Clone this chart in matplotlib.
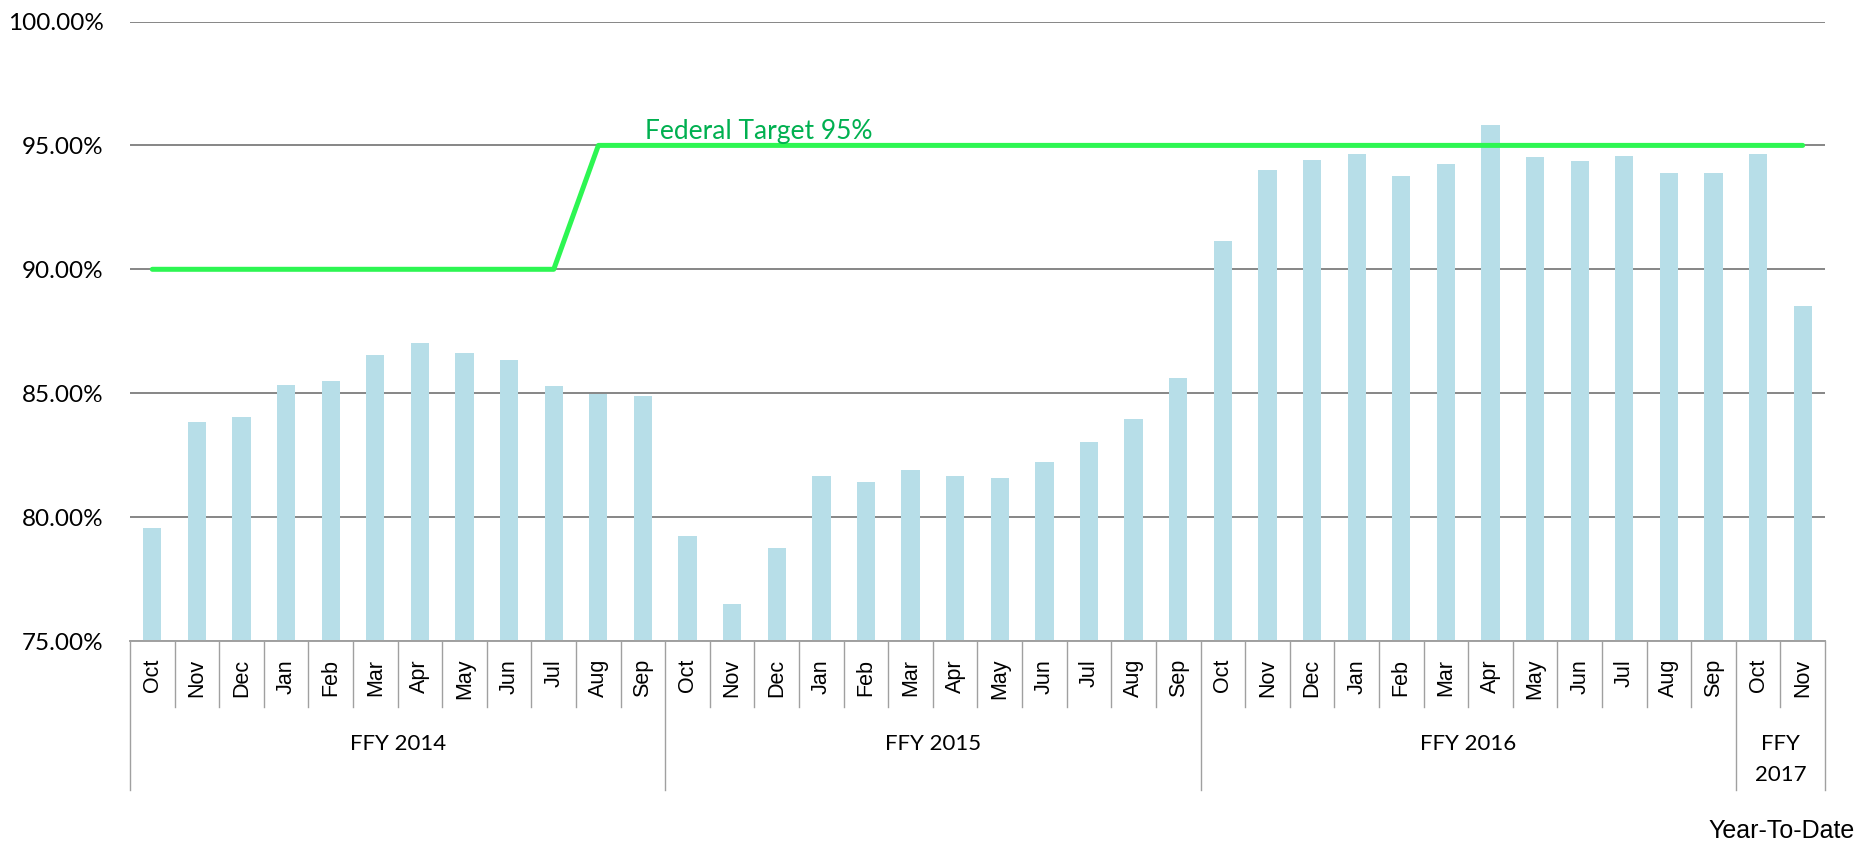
import matplotlib
matplotlib.use('Agg')
import matplotlib.pyplot as plt
import matplotlib.transforms as mtransforms
from matplotlib.ticker import FuncFormatter

# Данные графика
months = ['Oct', 'Nov', 'Dec', 'Jan', 'Feb', 'Mar', 'Apr', 'May', 'Jun', 'Jul', 'Aug', 'Sep']
month_labels = months * 3 + ['Oct', 'Nov']
years = ['FFY 2014', 'FFY 2015', 'FFY 2016', 'FFY\n2017']
year_sizes = [12, 12, 12, 2]

rates_2014 = [79.54, 83.83, 84.03, 85.35, 85.48, 86.54, 87.04, 86.61, 86.33, 85.31, 84.95, 84.87]
rates_2015 = [79.25, 76.49, 78.75, 81.64, 81.40, 81.92, 81.67, 81.56, 82.23, 83.05, 83.97, 85.63]
rates_2016 = [91.16, 93.99, 94.40, 94.67, 93.75, 94.24, 95.81, 94.54, 94.39, 94.56, 93.87, 93.87]
rates_2017 = [94.64, 88.52]
rates = rates_2014 + rates_2015 + rates_2016 + rates_2017

# Федеральная цель: 90% до Jul 2014, далее 95%
target = [90.0] * 10 + [95.0] * 28

W, H = 1874, 844
fig = plt.figure(figsize=(W / 100, H / 100), dpi=100)
ax = fig.add_axes([130 / W, 1 - 641 / H, 1695 / W, 619.5 / H])

x = list(range(len(rates)))
ax.bar(x, rates, width=0.41, color='#B7DEE8', zorder=2)
ax.plot(x, target, color='#2DF652', linewidth=3.6, solid_capstyle='round',
        solid_joinstyle='round', zorder=3)
ax.text(11.05, 95.27, 'Federal Target 95%', color='#00B050', fontsize=19,
        family='Lato', ha='left', va='baseline', zorder=4)

ax.set_xlim(-0.5, len(rates) - 0.5)
ax.set_ylim(75, 100)
ax.set_yticks([75, 80, 85, 90, 95, 100])
ax.yaxis.set_major_formatter(FuncFormatter(lambda v, p: f'{v:.2f}%'))
ax.tick_params(axis='y', length=0, pad=19, labelsize=17.5)
for lab in ax.get_yticklabels():
    lab.set_family('Lato')
ax.set_xticks([])
ax.grid(axis='y', color='#868686', linewidth=1.4, zorder=1)
for s in ['top', 'right', 'left']:
    ax.spines[s].set_visible(False)
ax.spines['bottom'].set_color('#A0A0A0')
ax.spines['bottom'].set_linewidth(1.4)

# Таблица подписей под осью
trans = mtransforms.blended_transform_factory(ax.transData, ax.transAxes)
cell_bottom = -0.1065
group_bottom = -0.2405
bounds = [-0.5]
for n in year_sizes:
    bounds.append(bounds[-1] + n)
for i in range(1, len(rates)):
    xb = i - 0.5
    if xb in bounds:
        continue
    ax.plot([xb, xb], [0, cell_bottom], color='#A0A0A0', linewidth=1.0,
            transform=trans, clip_on=False)
for xb in bounds:
    ax.plot([xb, xb], [0, group_bottom], color='#A0A0A0', linewidth=1.0,
            transform=trans, clip_on=False)

for i, m in enumerate(month_labels):
    ax.text(i, -0.029, m, rotation=90, ha='center', va='top', fontsize=15.5,
            family='Liberation Sans', transform=trans)

for k, name in enumerate(years):
    xc = (bounds[k] + bounds[k + 1]) / 2
    lines = name.split('\n')
    for j, line in enumerate(lines):
        ax.text(xc, -0.176 - j * 0.05, line, ha='center', va='baseline',
                fontsize=16, family='Lato', transform=trans)

fig.text(1855 / W, 1 - 838 / H, 'Year-To-Date', ha='right', va='baseline',
         fontsize=18, family='Liberation Sans')

fig.savefig('out.png', dpi=100)
